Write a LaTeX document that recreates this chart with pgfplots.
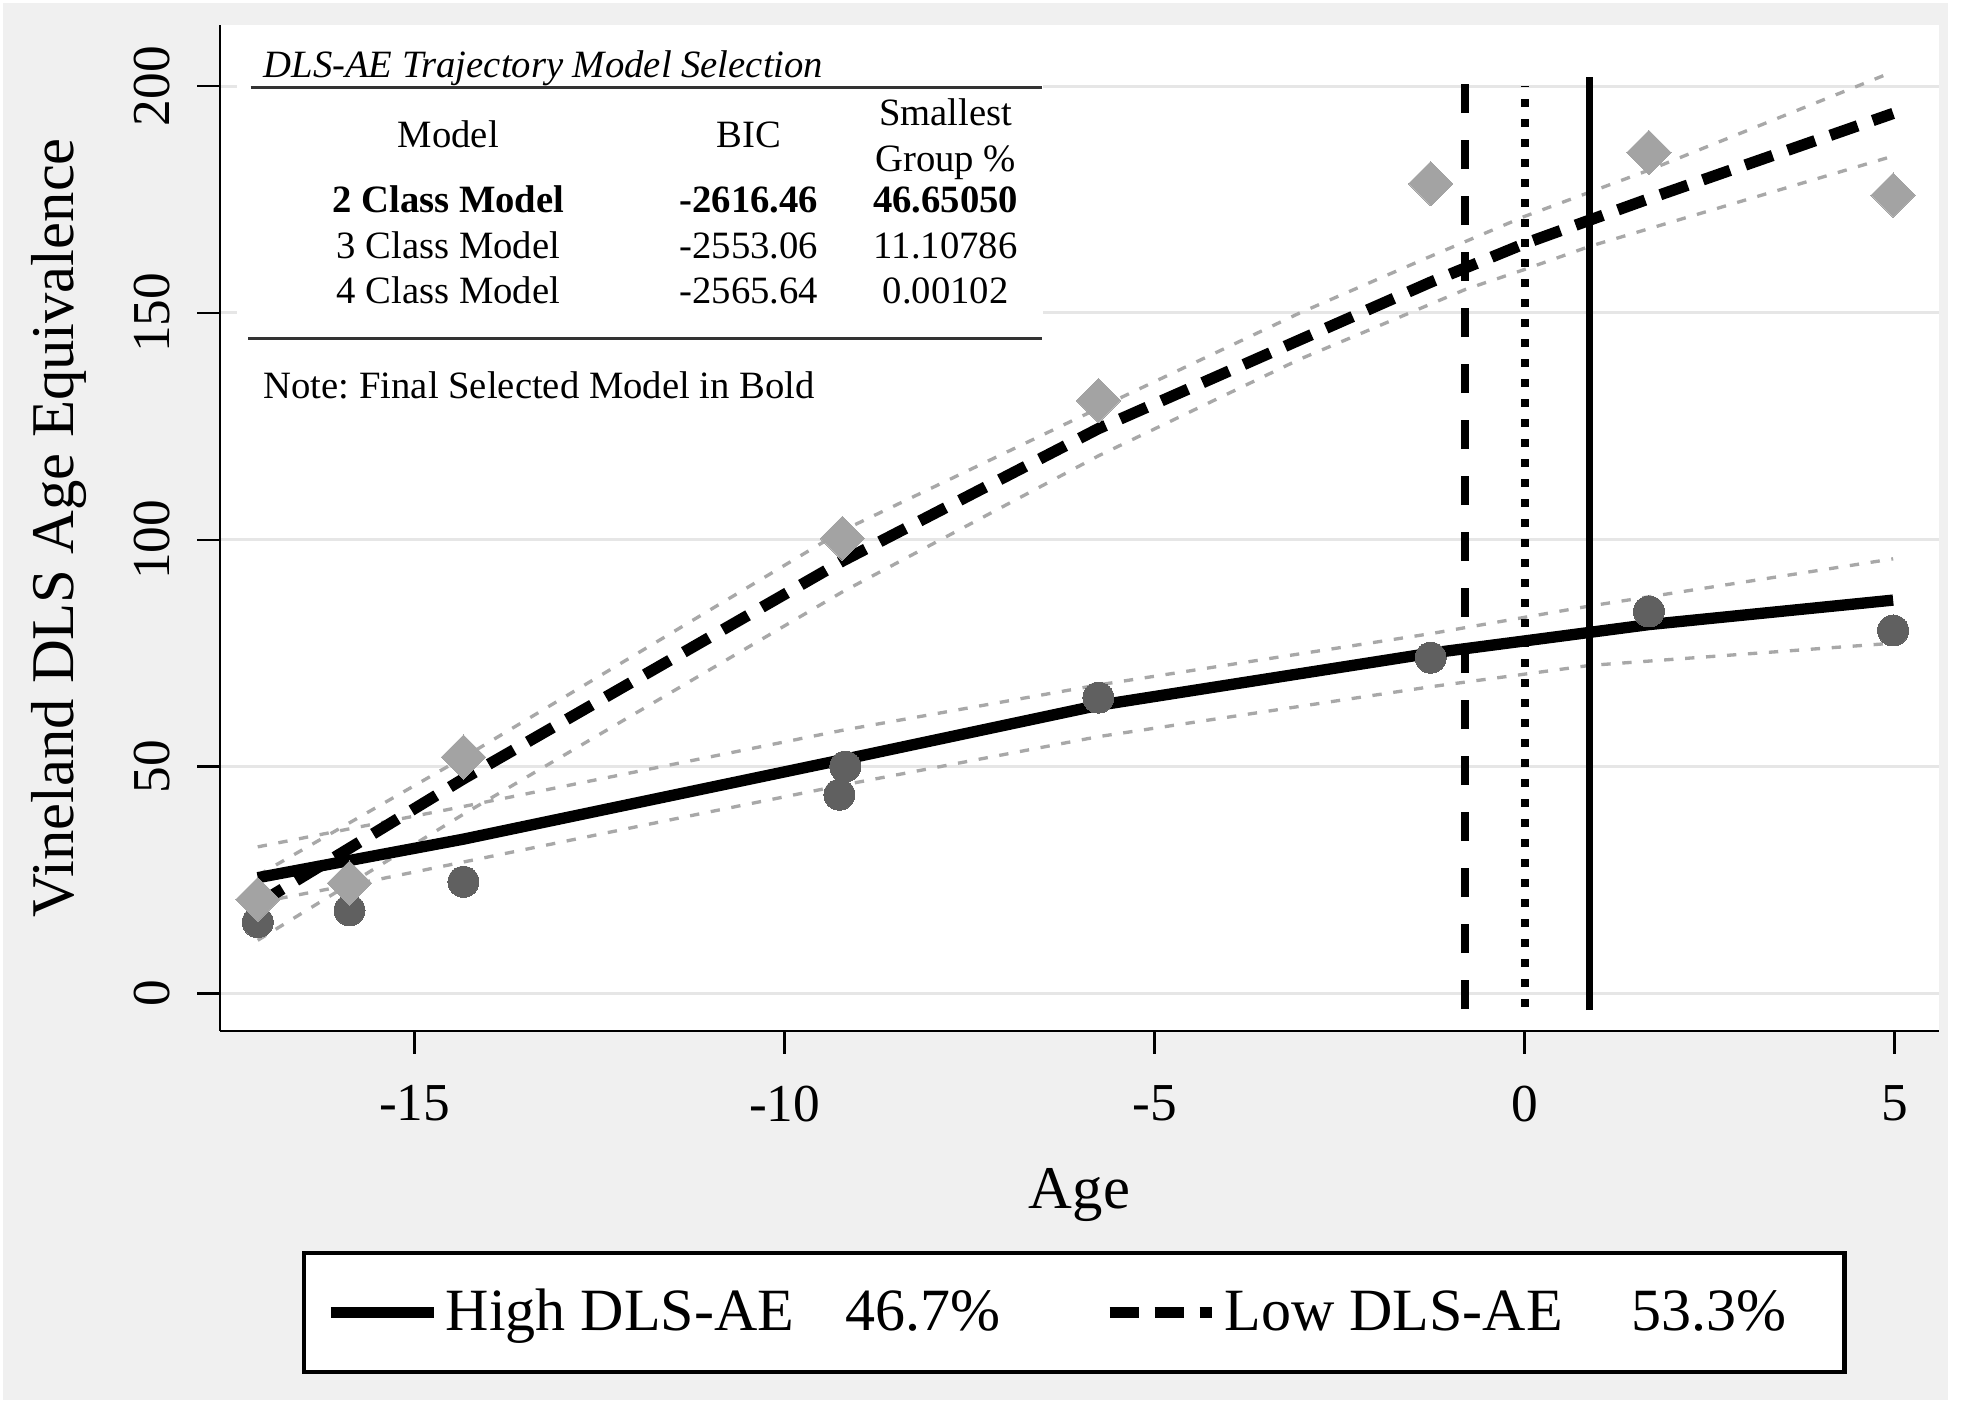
\documentclass[border=0pt]{standalone}
\usepackage{fontspec}
\setmainfont{Liberation Serif}
\usepackage{pgfplots}
\pgfplotsset{compat=1.18}
\definecolor{bg}{HTML}{F0F0F0}
\definecolor{gridc}{HTML}{E6E6E6}
\definecolor{dotdark}{HTML}{606060}
\definecolor{dialight}{HTML}{A3A3A3}
\definecolor{band}{HTML}{A8A8A8}
\definecolor{rule}{HTML}{333333}
\frenchspacing

\begin{document}
\begin{tikzpicture}
\fill[white] (0,0) rectangle (589.2pt,423pt);
\fill[bg] (0.9pt,3pt) rectangle (584.4pt,422.1pt);
\path[use as bounding box] (0,0) rectangle (589.2pt,423pt);

\begin{axis}[
  at={(66pt,113.7pt)}, anchor=south west,
  scale only axis, width=515.7pt, height=301.8pt,
  xmin=-17.63, xmax=5.6, ymin=-8.3, ymax=213.5,
  axis x line*=bottom, axis y line*=left,
  axis line style={line width=0.75pt},
  axis background/.style={fill=white},
  xtick={-15,-10,-5,0,5}, xticklabels={-15,-10,-5,0,5},
  ytick={0,50,100,150,200}, yticklabels={0,50,100,150,200},
  tick align=outside, major tick length=6.8pt,
  tick style={black, line width=0.75pt},
  ymajorgrids, major grid style={draw=gridc, line width=0.9pt},
  ticklabel style={font=\fontsize{16}{19}\selectfont},
  xticklabel style={yshift=-6.1pt},
  yticklabel style={rotate=90, anchor=south, inner ysep=8pt},
  xlabel={Age}, ylabel={Vineland DLS Age Equivalence},
  label style={font=\fontsize{18.2}{21}\selectfont},
  xlabel style={at={(axis description cs:0.5,-0.1626)}, anchor=center},
  ylabel style={at={(axis description cs:-0.0937,0.5)}, anchor=center},
  legend style={at={(axis description cs:0.497,-0.280)}, anchor=center,
    draw=black, line width=1.3pt, fill=white,
    font=\fontsize{18}{21}\selectfont, inner xsep=6.3pt, inner ysep=8.9pt,
    /tikz/every even column/.append style={column sep=29pt}},
  legend columns=2,
  legend cell align=left,
  legend image code/.code={\draw[#1] (0pt,0pt) -- (30.8pt,0pt);},
]

% observed group means
\addplot[dotdark, only marks, mark=*, mark size=4.65pt,
  mark options={draw=dotdark, fill=dotdark, line width=0pt}, forget plot] coordinates {
  (-17.12,15.7) (-15.88,18.3) (-14.34,24.6) (-9.26,43.8) (-9.18,50)
  (-5.76,65.2) (-1.27,74) (1.68,84.2) (4.98,80)
};
\addplot[dialight, only marks, mark=square*, mark size=4.7pt,
  mark options={draw=dialight, fill=dialight, line width=0pt, rotate=45}, forget plot] coordinates {
  (-17.12,20.7) (-15.88,24.3) (-14.34,52.1) (-9.22,100.3)
  (-5.76,130.7) (-1.27,178.5) (1.68,185.4) (4.98,176)
};

% confidence bands
\addplot[band, line width=1pt, dash pattern=on 2.8pt off 3.5pt, forget plot] coordinates {
  (-17.12,32.3) (-14.34,41.2) (-9.22,58) (-5.76,68) (-1.27,79.3) (0.88,85.4) (4.98,95.8)
};
\addplot[band, line width=1pt, dash pattern=on 2.8pt off 3.5pt, forget plot] coordinates {
  (-17.12,20) (-15.56,24.9) (-11.14,39.6) (-9.22,45.9) (-5.76,56.6) (-1.27,67.6) (0.88,72.3) (4.98,77.2)
};
\addplot[band, line width=1pt, dash pattern=on 2.8pt off 3.5pt, forget plot] coordinates {
  (-17.12,26) (-14.34,52) (-9.22,102) (-5.76,129) (-3.04,150) (-1.27,162.5) (0,171.3) (1.68,181.5) (4.98,203.2)
};
\addplot[band, line width=1pt, dash pattern=on 2.8pt off 3.5pt, forget plot] coordinates {
  (-17.12,11.7) (-14.34,39.5) (-9.22,88.5) (-5.76,118.5) (-3.04,139.8) (-0.8,155.2) (0,159.6) (0.88,164.7) (4.98,184.6)
};

% trajectories
\addplot[black, line width=3.4pt] coordinates {
  (-17.12,25.5) (-14.34,34) (-9.22,51.5) (-5.76,63.5) (-1.27,75) (0,77.7) (1.68,81.3) (4.98,86.7)
};
\addlegendentry{High DLS-AE\hspace{15.4pt}46.7\%}
\addplot[black, line width=3.4pt, dash pattern=on 8.7pt off 4.8pt] coordinates {
  (-17.12,19.7) (-15.88,32) (-14.34,47.3) (-9.22,95.3) (-5.76,124.5) (-1.27,156.8) (0,165.3) (1.68,175.2) (4.98,194)
};
\addlegendentry{Low DLS-AE\hspace{20.7pt}53.3\%\kern9pt\relax}

% reference lines
\addplot[black, line width=2.4pt, dash pattern=on 8.8pt off 8pt, forget plot] coordinates {(-0.8,-3.5) (-0.8,202)};
\addplot[black, line width=2.4pt, dash pattern=on 2.5pt off 3.5pt, forget plot] coordinates {(0,-3) (0,200)};
\addplot[black, line width=2pt, forget plot] coordinates {(0.88,-3.7) (0.88,202)};
\end{axis}

% inset table
\fill[white] (71pt,297pt) rectangle (313pt,414pt);
\begin{scope}[every node/.style={inner sep=0pt, font=\fontsize{11.6}{14}\selectfont}]
\node[anchor=base west, font=\fontsize{11.6}{14}\selectfont\itshape] at (78.9pt,399.7pt) {DLS-AE Trajectory Model Selection};
\draw[rule, line width=0.9pt] (75.2pt,396.7pt) -- (312.6pt,396.7pt);
\node[anchor=base] at (134.5pt,378.6pt) {Model};
\node[anchor=base] at (224.7pt,378.6pt) {BIC};
\node[anchor=base] at (283.7pt,385.4pt) {Smallest};
\node[anchor=base] at (283.7pt,371.5pt) {Group \%};
\node[anchor=base, font=\fontsize{11.6}{14}\selectfont\bfseries] at (134.5pt,359.1pt) {2 Class Model};
\node[anchor=base, font=\fontsize{11.6}{14}\selectfont\bfseries] at (224.7pt,359.1pt) {-2616.46};
\node[anchor=base, font=\fontsize{11.6}{14}\selectfont\bfseries] at (283.7pt,359.1pt) {46.65050};
\node[anchor=base] at (134.5pt,345.5pt) {3 Class Model};
\node[anchor=base] at (224.7pt,345.5pt) {-2553.06};
\node[anchor=base] at (283.7pt,345.5pt) {11.10786};
\node[anchor=base] at (134.5pt,332pt) {4 Class Model};
\node[anchor=base] at (224.7pt,332pt) {-2565.64};
\node[anchor=base] at (283.7pt,332pt) {0.00102};
\draw[rule, line width=0.9pt] (74.4pt,321.5pt) -- (312.6pt,321.5pt);
\node[anchor=base west] at (78.9pt,303.5pt) {Note: Final Selected Model in Bold};
\end{scope}
\end{tikzpicture}
\end{document}
